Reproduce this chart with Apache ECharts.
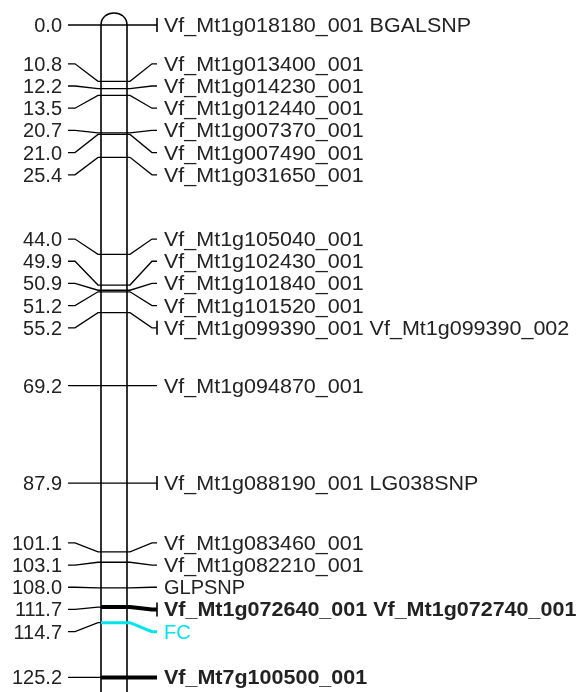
<!DOCTYPE html>
<html lang="en">
<head>
  <meta charset="UTF-8">
  <title>Linkage group map</title>
  <script src="https://cdn.jsdelivr.net/npm/echarts@6.0.0/dist/echarts.min.js"></script>
  <style>
    html, body { margin: 0; padding: 0; background: #fff; }
    #main { width: 579px; height: 692px; }
  </style>
</head>
<body>
  <div id="main"></div>
  <script>
    // marker positions (cM) and names, top to bottom
    const positions = [0.0, 10.8, 12.2, 13.5, 20.7, 21.0, 25.4, 44.0, 49.9, 50.9, 51.2, 55.2,
      69.2, 87.9, 101.1, 103.1, 108.0, 111.7, 114.7, 125.2];
    const markerNames = [
      ['Vf_Mt1g018180_001', 'BGALSNP'],
      ['Vf_Mt1g013400_001'],
      ['Vf_Mt1g014230_001'],
      ['Vf_Mt1g012440_001'],
      ['Vf_Mt1g007370_001'],
      ['Vf_Mt1g007490_001'],
      ['Vf_Mt1g031650_001'],
      ['Vf_Mt1g105040_001'],
      ['Vf_Mt1g102430_001'],
      ['Vf_Mt1g101840_001'],
      ['Vf_Mt1g101520_001'],
      ['Vf_Mt1g099390_001', 'Vf_Mt1g099390_002'],
      ['Vf_Mt1g094870_001'],
      ['Vf_Mt1g088190_001', 'LG038SNP'],
      ['Vf_Mt1g083460_001'],
      ['Vf_Mt1g082210_001'],
      ['GLPSNP'],
      ['Vf_Mt1g072640_001', 'Vf_Mt1g072740_001'],
      ['FC'],
      ['Vf_Mt7g100500_001']
    ];
    // markers drawn highlighted, and trait loci
    const highlighted = ['Vf_Mt1g072640_001', 'Vf_Mt7g100500_001'];
    const traits = ['FC'];

    const FONT = '"Liberation Sans", Arial, sans-serif';
    const GAP = 22.2;          // label spacing in px
    const CH_L = 101, CH_R = 127;
    const TEXT = '#222';
    const TRAIT = '#00e4ee';

    // spread labels so they don't overlap; each group centred between its outer markers
    function layoutLabels(api) {
      const ys = positions.map(p => api.coord([0, p])[1]);
      let groups = ys.map((y, i) => ({ first: i, last: i }));
      const centre = g => (ys[g.first] + ys[g.last]) / 2;
      let changed = true;
      while (changed) {
        changed = false;
        for (let k = 0; k < groups.length - 1; k++) {
          const a = groups[k], b = groups[k + 1];
          const aBottom = centre(a) + (a.last - a.first) * GAP / 2;
          const bTop = centre(b) - (b.last - b.first) * GAP / 2;
          if (bTop - aBottom < GAP) {
            groups.splice(k, 2, { first: a.first, last: b.last });
            changed = true;
            break;
          }
        }
      }
      const out = [];
      groups.forEach(g => {
        const c = centre(g), n = g.last - g.first;
        for (let j = 0; j <= n; j++) out[g.first + j] = c - n * GAP / 2 + j * GAP;
      });
      return { ys, ly: out };
    }

    function renderChromosome(params, api) {
      const top = api.coord([0, api.value(0)])[1];
      const bottom = api.coord([0, api.value(1)])[1] + 20;
      const stroke = { stroke: '#000', lineWidth: 1.6, fill: null };
      return {
        type: 'group',
        children: [
          { type: 'rect', shape: { x: CH_L, y: top, width: CH_R - CH_L, height: bottom - top }, style: { fill: '#fff' } },
          { type: 'path', shape: { pathData: `M${CH_L} ${top} C${CH_L} ${top - 16} ${CH_R} ${top - 16} ${CH_R} ${top}` }, style: stroke },
          { type: 'line', shape: { x1: CH_L, y1: top, x2: CH_L, y2: bottom }, style: stroke },
          { type: 'line', shape: { x1: CH_R, y1: top, x2: CH_R, y2: bottom }, style: stroke }
        ]
      };
    }

    function renderMarker(params, api) {
      const i = params.dataIndex;
      const lay = layoutLabels(api);
      const my = lay.ys[i], ly = lay.ly[i];
      const names = markerNames[i];
      const label = names.join(' ');
      const isBold = highlighted.includes(names[0]);
      const isTrait = traits.includes(names[0]);
      const col = isTrait ? TRAIT : '#000';
      const w = isBold ? 4 : (isTrait ? 3 : 1.3);
      const children = [];
      children.push({
        type: 'text', x: 62, y: ly + 1.5,
        style: { text: api.value(1).toFixed(1), fill: TEXT, font: `20px ${FONT}`, align: 'right', verticalAlign: 'middle' }
      });
      children.push({
        type: 'polyline', shape: { points: [[68, ly], [75, ly], [98, my], [CH_L, my]] },
        style: { stroke: '#000', lineWidth: 1.3, fill: null }
      });
      children.push({
        type: 'polyline', shape: { points: [[CH_L, my], [CH_R, my], [130, my], [152, ly], [157, ly]] },
        style: { stroke: col, lineWidth: w, fill: null }
      });
      if (names.length > 1) {
        children.push({
          type: 'line', shape: { x1: 157, y1: ly - 7, x2: 157, y2: ly + 7 },
          style: { stroke: '#000', lineWidth: 1.6 }
        });
      }
      children.push({
        type: 'text', x: 164, y: ly + 1.5,
        scaleX: /\d/.test(label) ? 1.075 : 1,
        style: {
          text: label, fill: isTrait ? TRAIT : TEXT,
          font: `${isBold ? 'bold ' : ''}20px ${FONT}`, align: 'left', verticalAlign: 'middle'
        }
      });
      return { type: 'group', children };
    }

    const chart = echarts.init(document.getElementById('main'), null, { renderer: 'canvas' });
    chart.setOption({
      animation: false,
      grid: { left: 0, top: 25, right: 0, bottom: 0 },
      xAxis: { type: 'value', min: 0, max: 579, show: false },
      yAxis: { type: 'value', min: 0, max: 128, inverse: true, show: false },
      series: [
        {
          type: 'custom', clip: false, silent: true,
          renderItem: renderChromosome,
          encode: { y: [0, 1] },
          data: [[0, 128]]
        },
        {
          type: 'custom', clip: false, silent: true,
          renderItem: renderMarker,
          encode: { x: 0, y: 1 },
          data: positions.map((p, i) => [i, p])
        }
      ]
    });
  </script>
</body>
</html>
